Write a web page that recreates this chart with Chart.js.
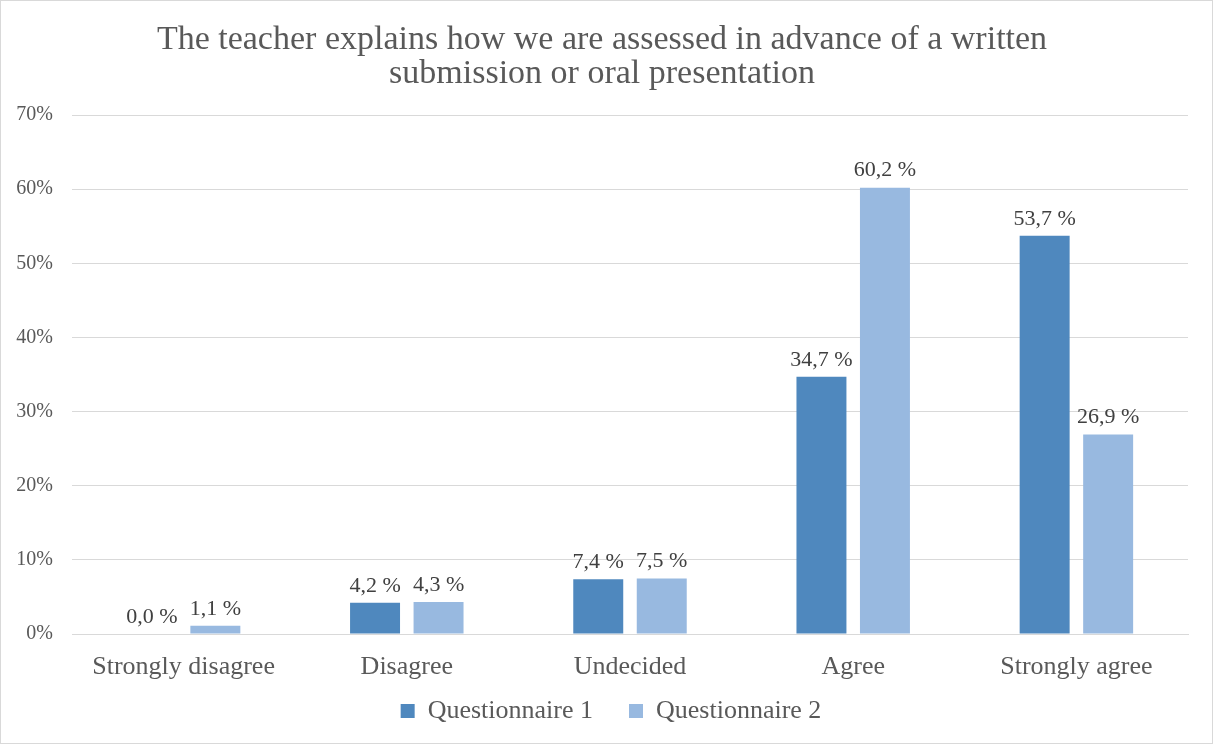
<!DOCTYPE html>
<html>
<head>
<meta charset="utf-8">
<script src="https://cdn.jsdelivr.net/npm/chart.js@4"></script>
<style>
html,body{margin:0;padding:0;background:#fff;}
#wrap{position:absolute;left:0;top:0;width:1211px;height:742px;border:1px solid #d9d9d9;background:#fff;}
canvas{display:block;}
</style>
</head>
<body>
<div id="wrap"><canvas id="c" width="1211" height="742"></canvas></div>
<script>
const categories = ["Strongly disagree", "Disagree", "Undecided", "Agree", "Strongly agree"];
const questionnaire1 = [0.0, 4.2, 7.4, 34.7, 53.7];
const questionnaire2 = [1.1, 4.3, 7.5, 60.2, 26.9];
const seriesNames = ["Questionnaire 1", "Questionnaire 2"];
const titleLines = ["The teacher explains how we are assessed in advance of a written", "submission or oral presentation"];

const FONT = "'Liberation Serif', 'Times New Roman', serif";
const LEGEND_PAD = 36;
const LEGEND_H = 50;
const LEGEND_CENTER_Y = 710;
const LEGEND_SHIFT_X = 9;

const labelPlugin = {
  id: 'valueLabels',
  afterDatasetsDraw(chart) {
    const ctx = chart.ctx;
    ctx.save();
    ctx.font = "22px " + FONT;
    ctx.fillStyle = "#404040";
    ctx.textAlign = "center";
    ctx.textBaseline = "bottom";
    chart.data.datasets.forEach((ds, di) => {
      const meta = chart.getDatasetMeta(di);
      meta.data.forEach((bar, i) => {
        const v = ds.data[i];
        const txt = v.toFixed(1).replace('.', ',') + " %";
        ctx.fillText(txt, bar.x, bar.y - 6);
      });
    });
    ctx.restore();
  }
};

const legendFitPlugin = {
  id: 'legendFit',
  beforeLayout(chart) {
    const lg = chart.legend;
    if (lg && !lg._patched) {
      const f = lg.fit;
      lg.fit = function () { f.call(this); this.height = LEGEND_H; };
      lg._patched = true;
    }
  },
  afterLayout(chart) {
    const lg = chart.legend;
    if (lg) {
      const top = LEGEND_CENTER_Y - LEGEND_PAD - 13;
      lg.top = top;
      lg.bottom = chart.height;
      lg.height = lg.bottom - lg.top;
      lg.left += LEGEND_SHIFT_X;
      lg.right += LEGEND_SHIFT_X;
    }
  }
};

new Chart(document.getElementById('c'), {
  type: 'bar',
  data: {
    labels: categories,
    datasets: [
      { label: seriesNames[0], data: questionnaire1, backgroundColor: '#4f88be', categoryPercentage: 0.569, barPercentage: 0.787 },
      { label: seriesNames[1], data: questionnaire2, backgroundColor: '#98b9e0', categoryPercentage: 0.569, barPercentage: 0.787 }
    ]
  },
  options: {
    responsive: false,
    animation: false,
    layout: { padding: { left: 15, right: 24, top: 8, bottom: 0 } },
    plugins: {
      title: {
        display: true,
        text: titleLines,
        font: { family: FONT, size: 34, weight: 'normal', lineHeight: 1.0 },
        color: '#595959',
        padding: { top: 14, bottom: 24 }
      },
      legend: {
        position: 'bottom',
        labels: {
          font: { family: FONT, size: 26 },
          color: '#595959',
          boxWidth: 14, boxHeight: 14,
          padding: LEGEND_PAD
        }
      },
      tooltip: { enabled: false }
    },
    scales: {
      x: {
        grid: { display: false, drawTicks: false },
        border: { display: true, color: '#d9d9d9', width: 1 },
        ticks: { font: { family: FONT, size: 26 }, color: '#595959', padding: 18 },
        afterFit: s => { s.height = 59; }
      },
      y: {
        min: 0, max: 70,
        ticks: { stepSize: 10, callback: v => v + '%', font: { family: FONT, size: 20 }, color: '#595959', padding: 19 },
        grid: { color: '#d9d9d9', drawTicks: false },
        border: { display: false },
        afterFit: s => { s.width = 56; }
      }
    }
  },
  plugins: [labelPlugin, legendFitPlugin]
});
</script>
</body>
</html>
